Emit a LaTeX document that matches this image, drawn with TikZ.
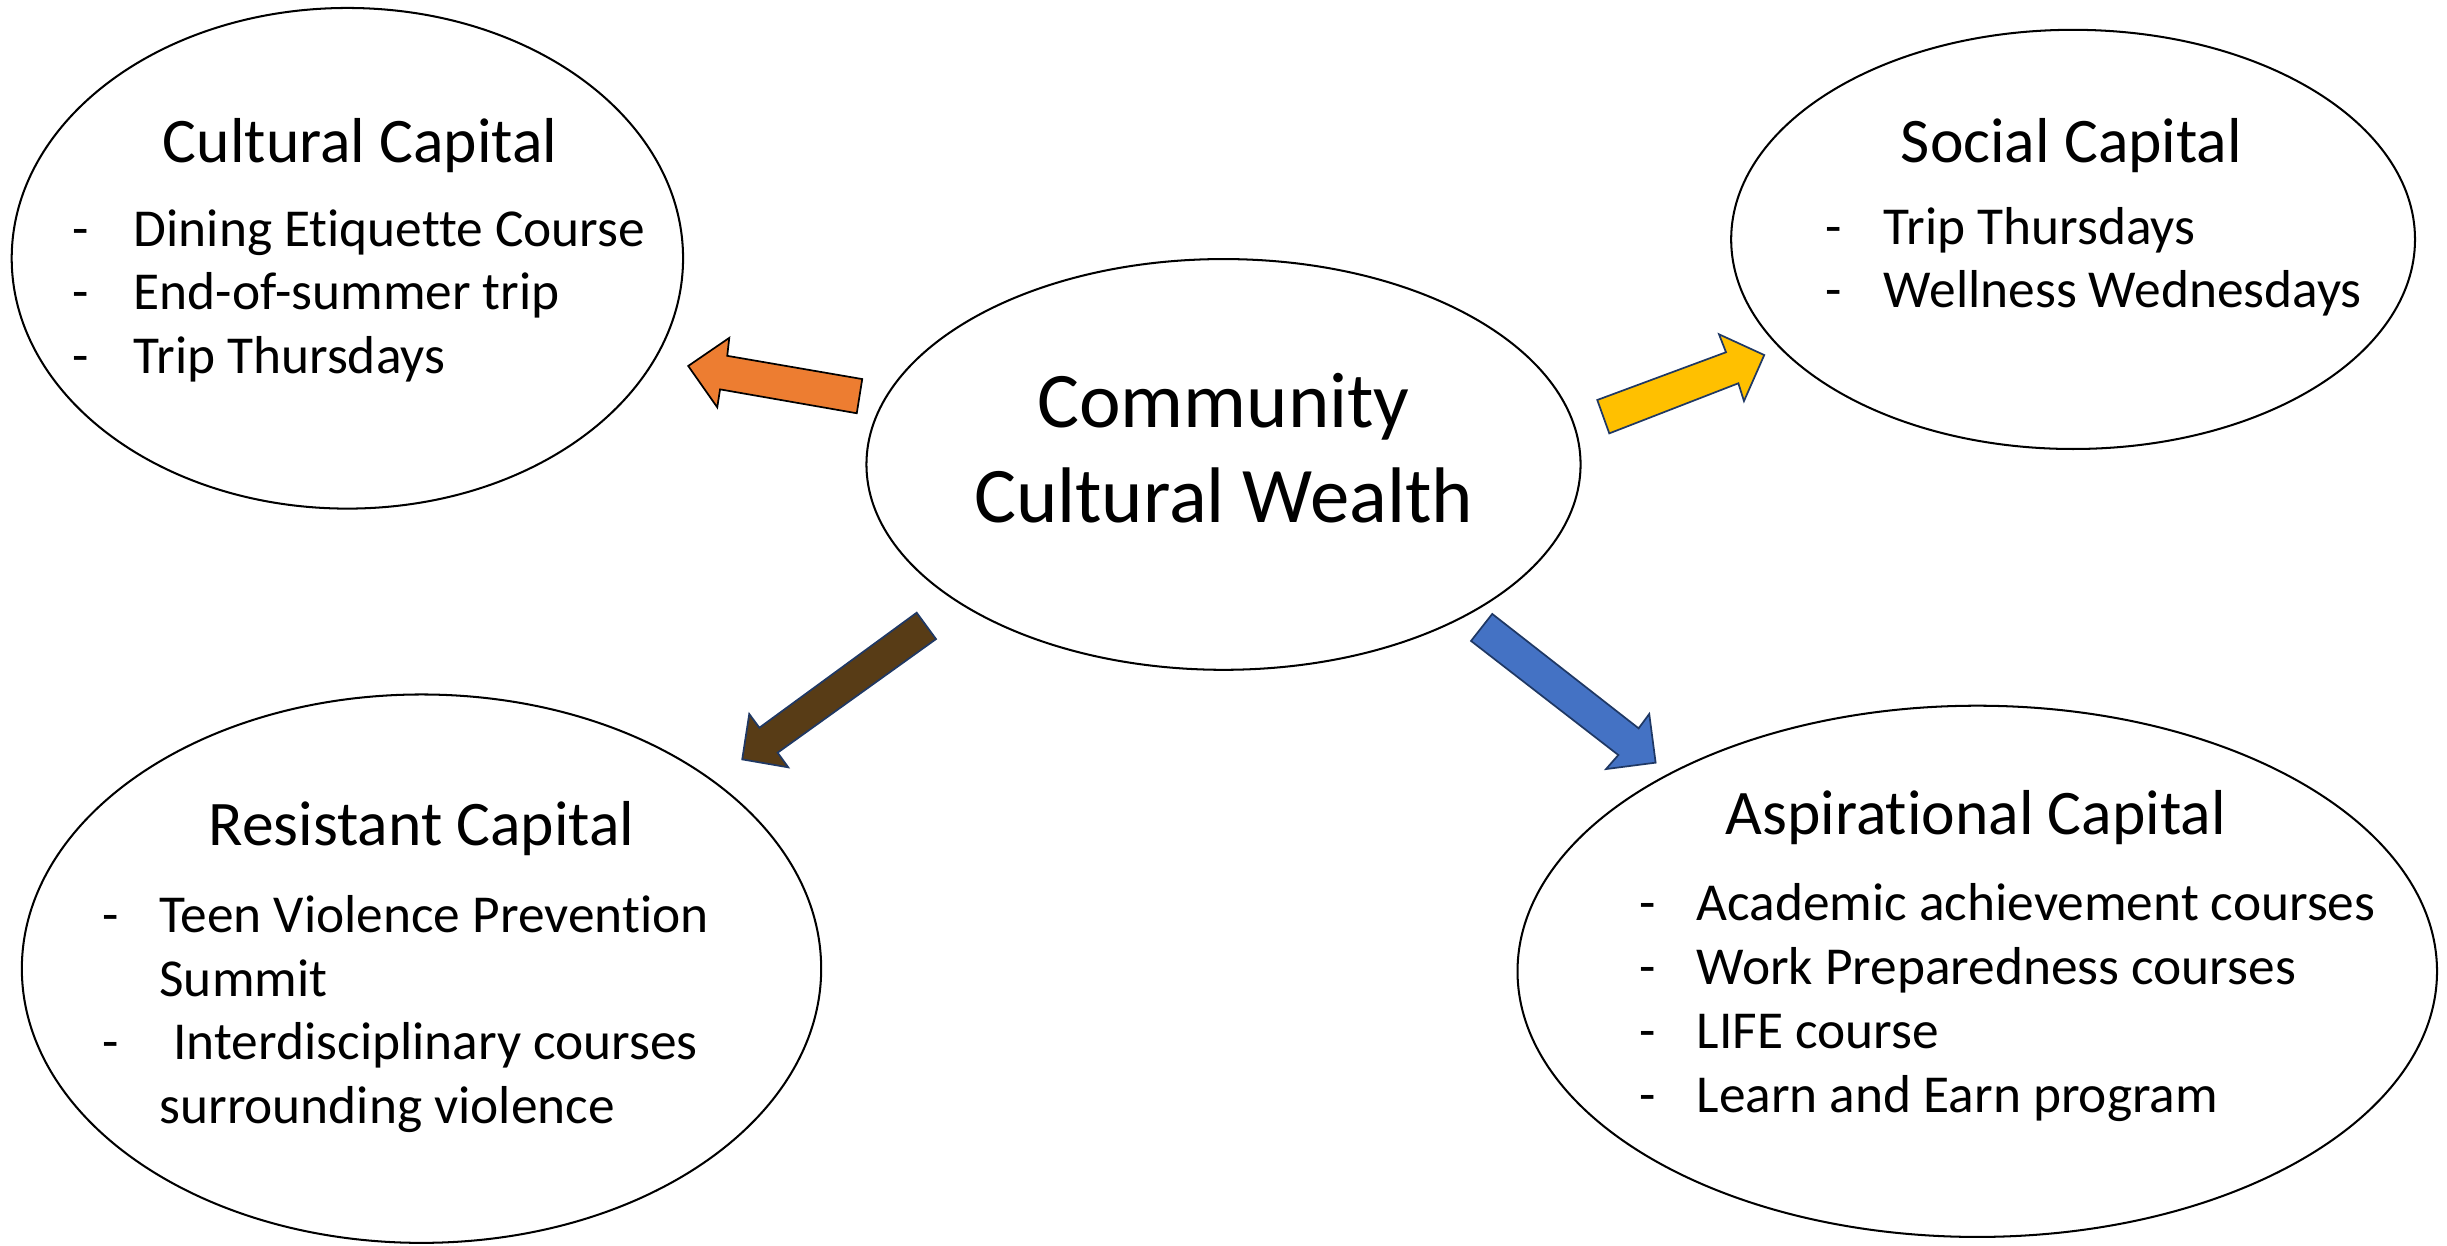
\documentclass[tikz,border=0pt]{standalone}
\usepackage{fontspec}
\setmainfont{Carlito}[Ligatures={NoCommon,NoRare}]
\usetikzlibrary{shapes.geometric}
\definecolor{arOrange}{HTML}{ED7D31}
\definecolor{arYellow}{HTML}{FFC000}
\definecolor{arBrown}{HTML}{583C16}
\definecolor{arBlue}{HTML}{4472C4}
\definecolor{arNavy}{HTML}{1F3864}
\begin{document}
\begin{tikzpicture}[x=1pt,y=-1pt,
  bubble/.style={draw=black, line width=1.3pt, ellipse, inner sep=0pt},
  ctitle/.style={font=\fontsize{40.7}{49}\selectfont, inner sep=0pt, anchor=base},
  bigtitle/.style={font=\fontsize{50.5}{60}\selectfont, inner sep=0pt, anchor=base},
  bullet/.style={font=\fontsize{34.2}{41}\selectfont, inner sep=0pt, anchor=base},
  itemtext/.style={font=\fontsize{34.2}{41}\selectfont, inner sep=0pt, anchor=base west},
  blockarrow/.style={line width=1.1pt, line join=miter}
]
\useasboundingbox (0,0) rectangle (1568,798);

% ellipses
\node[bubble, minimum width=430.2pt, minimum height=320.8pt] (cult) at (222.6,165.5) {};
\node[bubble, minimum width=438.2pt, minimum height=268.6pt] (soc) at (1328.4,153.4) {};
\node[bubble, minimum width=457.6pt, minimum height=263.2pt] (ccw) at (784,297.6) {};
\node[bubble, minimum width=512.2pt, minimum height=351.4pt] (res) at (270.1,620.7) {};
\node[bubble, minimum width=589.2pt, minimum height=340.4pt] (asp) at (1267,622.4) {};

% centre text
\node[bigtitle] (ccw1) at (784,273.7) {Community};
\node[bigtitle] (ccw2) at (784,334.8) {Cultural Wealth};

% Cultural capital
\node[ctitle] (cultT) at (230.8,103.9) {Cultural Capital};
\node[bullet] (cultD1) at (51.8,157.8) {-};
\node[itemtext] (cultI1) at (85.5,157.8) {Dining Etiquette Course};
\node[bullet] (cultD2) at (51.8,198.6) {-};
\node[itemtext] (cultI2) at (85.5,198.6) {End-of-summer trip};
\node[bullet] (cultD3) at (51.8,239.3) {-};
\node[itemtext] (cultI3) at (85.5,239.3) {Trip Thursdays};

% Social capital
\node[ctitle] (socT) at (1327.4,103.9) {Social Capital};
\node[bullet] (socD1) at (1175,156.6) {-};
\node[itemtext] (socI1) at (1207,156.6) {Trip Thursdays};
\node[bullet] (socD2) at (1175,197.3) {-};
\node[itemtext] (socI2) at (1207,197.3) {Wellness Wednesdays};

% Resistant capital
\node[ctitle] (resT) at (270.2,541.8) {Resistant Capital};
\node[bullet] (resD1) at (71.2,597.3) {-};
\node[itemtext] (resI1) at (102,597.3) {Teen Violence Prevention};
\node[itemtext] (resI1b) at (102,638.5) {Summit};
\node[bullet] (resD2) at (71.2,679.2) {-};
\node[itemtext] (resI2) at (111,679.2) {Interdisciplinary courses};
\node[itemtext] (resI2b) at (102,720) {surrounding violence};

% Aspirational capital
\node[ctitle] (aspT) at (1266,534.7) {Aspirational Capital};
\node[bullet] (aspD1) at (1055.5,589.6) {-};
\node[itemtext] (aspI1) at (1087,589.6) {Academic achievement courses};
\node[bullet] (aspD2) at (1055.5,630.9) {-};
\node[itemtext] (aspI2) at (1087,630.9) {Work Preparedness courses};
\node[bullet] (aspD3) at (1055.5,671.6) {-};
\node[itemtext] (aspI3) at (1087,671.6) {LIFE course};
\node[bullet] (aspD4) at (1055.5,712.9) {-};
\node[itemtext] (aspI4) at (1087,712.9) {Learn and Earn program};

% block arrows
\draw[blockarrow, draw=black, fill=arOrange]
  (441,234.5) -- (467.3,216.5) -- (466,228) -- (552.5,242.9) -- (549,264.8)
  -- (461.4,249.5) -- (459.6,261) -- cycle;
\draw[blockarrow, draw=arNavy, fill=arYellow]
  (1023.5,256.3) -- (1106,225.7) -- (1101.5,214.2) -- (1130.5,227.5)
  -- (1117.5,257) -- (1113.9,245.6) -- (1031.2,277.7) -- cycle;
\draw[blockarrow, draw=arNavy, fill=arBrown]
  (587.4,392.6) -- (599.8,409.5) -- (498.3,482.3) -- (505.1,491.7)
  -- (475.6,486.6) -- (480.1,457.5) -- (486.6,466.3) -- cycle;
\draw[blockarrow, draw=arNavy, fill=arBlue]
  (956.2,393.4) -- (1050,466.7) -- (1056.8,457.5) -- (1060.9,488.7)
  -- (1029.1,492.8) -- (1037,483.8) -- (942.6,410.7) -- cycle;
\end{tikzpicture}
\end{document}
